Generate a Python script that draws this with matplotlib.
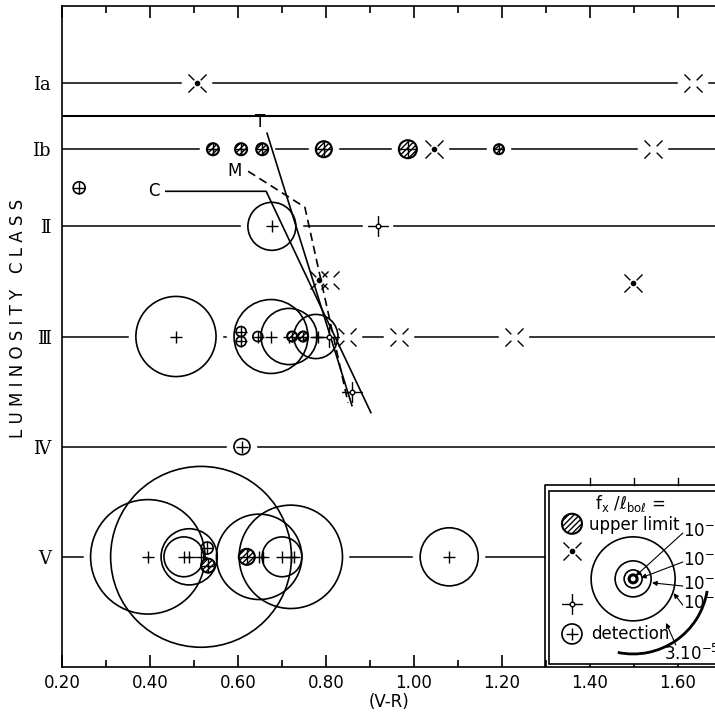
import numpy as np
import matplotlib.pyplot as plt
from matplotlib.path import Path
from matplotlib.patches import Rectangle, Arc
from matplotlib.ticker import MultipleLocator

# luminosity classes and their place on the vertical scale
class_names = ['Ia', 'Ib', 'Ⅱ', 'Ⅲ', 'Ⅳ', 'Ⅴ']
class_y = [4.3, 3.7, 3, 2, 1, 0]

# key of the circle sizes: log10(fx/lbol) -> circle radius (pixels)
key_f = [-8, -7, -6, -5, np.log10(3e-5)]
key_r = [4, 9, 18, 42, 75]

# detections (open circle with a cross): V-R, class level, log10(fx/lbol)
det_x = [0.395, 0.516, 0.489, 0.477, 0.648, 0.720, 0.700, 1.080, 0.530,
         0.459, 0.675, 0.716, 0.777, 0.607, 0.607, 0.645,
         0.677, 0.609, 0.239]
det_y = [0, 0, 0, 0, 0, 0, 0, 0, 0.08,
         2, 2, 2, 2, 2.045, 1.955, 2,
         3, 1, 3.35]
det_f = [-4.78, -4.30, -5.58, -5.92, -4.99, -4.86, -5.92, -5.54, -7.6,
         -5.08, -5.21, -5.58, -5.83, -7.8, -7.8, -7.8,
         -5.75, -7.2, -7.6]

# extra centre crosses without a circle
plus_x = [0.657, 0.727, 0.782]
plus_y = [0, 0, 2]

# upper limits (hatched circles)
ul_x = [0.543, 0.607, 0.655, 0.795, 0.986, 1.193, 0.723, 0.748, 0.620, 0.532]
ul_y = [3.7, 3.7, 3.7, 3.7, 3.7, 3.7, 2, 2, 0, -0.08]
ul_f = [-7.6, -7.6, -7.6, -7.2, -7.0, -7.8, -7.8, -7.8, -7.2, -7.4]

# crosses with a centre dot, open crosses, small four-point stars
xdot_x = [0.507, 1.045, 0.785, 1.498]
xdot_y = [4.3, 3.7, 2.51, 2.49]
xo_x = [1.634, 1.543, 0.848, 0.966, 1.227, 0.810]
xo_y = [4.3, 3.7, 2, 2, 2, 2.51]
star_x = [0.918, 0.807, 0.859]
star_y = [3, 2, 1.50]

# loci C, T, M
c_x = [0.436, 0.664, 0.902]
c_y = [3.318, 3.318, 1.309]
t_x = [0.666, 0.859]
t_y = [3.845, 1.373]
m_x = [0.623, 0.752, 0.850]
m_y = [3.50, 3.173, 1.40]

PX_X = 440.0   # pixels per unit of V-R
PX_Y = 110.0   # pixels per class step
PT = 0.72      # points per pixel at dpi 100


def radius(f):
    f = np.asarray(f, float)
    r = np.interp(f, key_f, key_r)
    slope = (key_r[-1] - key_r[-2]) / (key_f[-1] - key_f[-2])
    return np.where(f > key_f[-1], key_r[-1] + slope * (f - key_f[-1]), r)


# marker shapes
xv, xc = [], []
for sx, sy in [(1, 1), (-1, 1), (-1, -1), (1, -1)]:
    xv += [(0.35 * sx, 0.35 * sy), (sx, sy)]
    xc += [Path.MOVETO, Path.LINETO]
xpath = Path(xv, xc)

sv, sc = [], []
for sx, sy in [(1, 0), (-1, 0), (0, 1), (0, -1)]:
    sv += [(0.25 * sx, 0.25 * sy), (sx, sy)]
    sc += [Path.MOVETO, Path.LINETO]
starpath = Path.make_compound_path(Path(sv, sc), Path.circle((0, 0), 0.22))

plt.rcParams['hatch.linewidth'] = 1.0

fig = plt.figure(figsize=(7.15, 7.17), dpi=100)
ax = fig.add_axes([62 / 715, 1 - 667 / 717, 1 - 62 / 715, 661 / 717])
xmax = 0.2 + 653 / PX_X
ax.set_xlim(0.2, xmax)
ax.set_ylim(-1, 5)

# legend box position (data units)
lg_x0 = 1.298
lg_top = 0.655

# class lines, broken around the symbols
marks = []
marks += [(x, y, r + 8) for x, y, r in zip(det_x, det_y, radius(det_f))]
marks += [(x, y, r + 8) for x, y, r in zip(ul_x, ul_y, radius(ul_f))]
marks += [(x, y, 16) for x, y in zip(xdot_x + xo_x, xdot_y + xo_y)]
marks += [(x, y, 16) for x, y in zip(star_x, star_y)]
for yc in class_y:
    gaps = sorted((x - hw / PX_X, x + hw / PX_X) for x, y, hw in marks
                  if abs(y - yc) < 0.1)
    end = lg_x0 if yc == 0 else xmax
    start = 0.2
    for g0, g1 in gaps:
        if g0 > start:
            ax.plot([start, min(g0, end)], [yc, yc], color='k', lw=1.1, zorder=1)
        start = max(start, g1)
    if start < end:
        ax.plot([start, end], [yc, yc], color='k', lw=1.1, zorder=1)
ax.axhline(4.0, color='k', lw=1.5, zorder=1)

# detections
r = radius(det_f)
ax.scatter(det_x, det_y, s=(2 * r * PT) ** 2, marker='o', facecolors='none',
           edgecolors='k', linewidths=1.2, zorder=3)
ax.scatter(det_x + plus_x, det_y + plus_y, s=(12 * PT) ** 2, marker='+',
           color='k', linewidths=1.0, zorder=3)
# upper limits
r = radius(ul_f)
ax.scatter(ul_x, ul_y, s=(2 * r * PT) ** 2, marker='o', facecolors='white',
           edgecolors='k', linewidths=1.5, hatch='//////', zorder=4)
ax.scatter(ul_x, ul_y, s=(2 * r * PT) ** 2, marker='+', color='k',
           linewidths=1.0, zorder=4)
ax.plot(xdot_x + xo_x, xdot_y + xo_y, ls='none', marker=xpath, ms=13,
        mfc='none', mec='k', mew=1.0, zorder=3)
ax.plot(xdot_x, xdot_y, ls='none', marker='o', ms=3, color='k', zorder=3)
ax.plot(star_x, star_y, ls='none', marker=starpath, ms=15, mfc='white',
        mec='k', mew=1.0, zorder=3)

# loci
ax.plot(c_x, c_y, color='k', lw=1.2, zorder=2)
ax.plot(t_x, t_y, color='k', lw=1.2, zorder=2)
ax.plot(m_x, m_y, color='k', lw=1.2, ls=(0, (5, 3)), zorder=2)
ax.text(c_x[0] - 0.015, c_y[0], 'C', ha='right', va='center', fontsize=12)
ax.text(t_x[0] - 0.005, t_y[0] + 0.02, 'T', ha='right', va='bottom', fontsize=12)
ax.text(m_x[0] - 0.015, m_y[0], 'M', ha='right', va='center', fontsize=12)

# axes styling
ax.spines['right'].set_visible(False)
for side in ['left', 'bottom', 'top']:
    ax.spines[side].set_linewidth(1.2)
ax.xaxis.set_major_locator(MultipleLocator(0.2))
ax.xaxis.set_minor_locator(MultipleLocator(0.1))
ax.xaxis.set_major_formatter(lambda v, p: '%.2f' % v)
ax.tick_params(axis='x', which='both', direction='in', top=True,
               labelsize=12, pad=5, width=1.2)
ax.tick_params(axis='x', which='major', length=8.5)
ax.tick_params(axis='x', which='minor', length=5)
ax.set_yticks(class_y)
ax.set_yticklabels(class_names, fontsize=13, family='DejaVu Serif')
ax.tick_params(axis='y', length=0, pad=8)
ax.set_xlabel('(V-R)', fontsize=12, labelpad=1)
fig.text(18 / 715, 1 - 318 / 717, 'L U M I N O S I T Y   C L A S S',
         rotation=90, ha='center', va='center', fontsize=12)

# legend box
ax.plot([lg_x0, lg_x0, xmax], [-1, lg_top, lg_top], color='k', lw=1.2, zorder=5)
for xt in [1.4, 1.5, 1.6]:
    ax.plot([xt, xt], [lg_top, lg_top + 0.065], color='k', lw=1.0, zorder=5)
ax.add_patch(Rectangle((1.307, -0.973), xmax - 1.307 + 0.05, 1.573,
                       facecolor='white', edgecolor='k', lw=1.2, zorder=5))
kx = 1.359
ax.text(1.491, 0.48, r'f$_{\rm x}$ /$\ell_{\rm bo\ell}$ =', ha='center',
        va='center', fontsize=12, zorder=6)
ax.scatter([kx], [0.30], s=(20 * PT) ** 2, marker='o', facecolors='white',
           edgecolors='k', linewidths=1.5, hatch='//////', zorder=6)
ax.text(1.398, 0.29, 'upper limit', ha='left', va='center', fontsize=12, zorder=6)
ax.plot([kx], [0.055], ls='none', marker=xpath, ms=13, mfc='none', mec='k',
        mew=1.0, zorder=6)
ax.plot([kx], [0.055], ls='none', marker='o', ms=3, color='k', zorder=6)
ax.plot([kx], [-0.427], ls='none', marker=starpath, ms=15, mfc='white',
        mec='k', mew=1.0, zorder=6)
ax.scatter([kx], [-0.70], s=(20 * PT) ** 2, marker='o', facecolors='none',
           edgecolors='k', linewidths=1.2, zorder=6)
ax.scatter([kx], [-0.70], s=(12 * PT) ** 2, marker='+', color='k',
           linewidths=1.0, zorder=6)
ax.text(1.402, -0.70, 'detection', ha='left', va='center', fontsize=12, zorder=6)

cx, cy = 1.498, -0.20
for rr, lw in zip(key_r[:4], [2.2, 1.2, 1.2, 1.2]):
    ax.scatter([cx], [cy], s=(2 * rr * PT) ** 2, marker='o', facecolors='none',
               edgecolors='k', linewidths=lw, zorder=6)
ax.add_patch(Arc((cx, cy), 2 * key_r[4] / PX_X, 2 * key_r[4] / PX_Y,
                 theta1=-93, theta2=-33, color='k', lw=2, zorder=6))
labels = [r'10$^{-8}$', r'10$^{-7}$', r'10$^{-6}$', r'10$^{-5}$']
lab_y = [0.236, -0.027, -0.245, -0.418]
tips = [(1.504, -0.173), (1.516, -0.191), (1.541, -0.236), (1.590, -0.330)]
for lab, ly, tip in zip(labels, lab_y, tips):
    ax.text(1.611, ly, lab, ha='left', va='center', fontsize=12, zorder=6)
    ax.annotate('', xy=tip, xytext=(1.611, ly - 0.02), zorder=6,
                arrowprops=dict(arrowstyle='-|>', color='k', lw=0.8,
                                mutation_scale=7, shrinkA=0, shrinkB=0))
ax.text(1.568, -0.882, r'3.10$^{-5}$', ha='left', va='center', fontsize=12,
        zorder=6)
ax.annotate('', xy=(1.573, -0.60), xytext=(1.595, -0.80), zorder=6,
            arrowprops=dict(arrowstyle='-|>', color='k', lw=0.8,
                            mutation_scale=7, shrinkA=0, shrinkB=0))

fig.savefig('out.png', dpi=100)
